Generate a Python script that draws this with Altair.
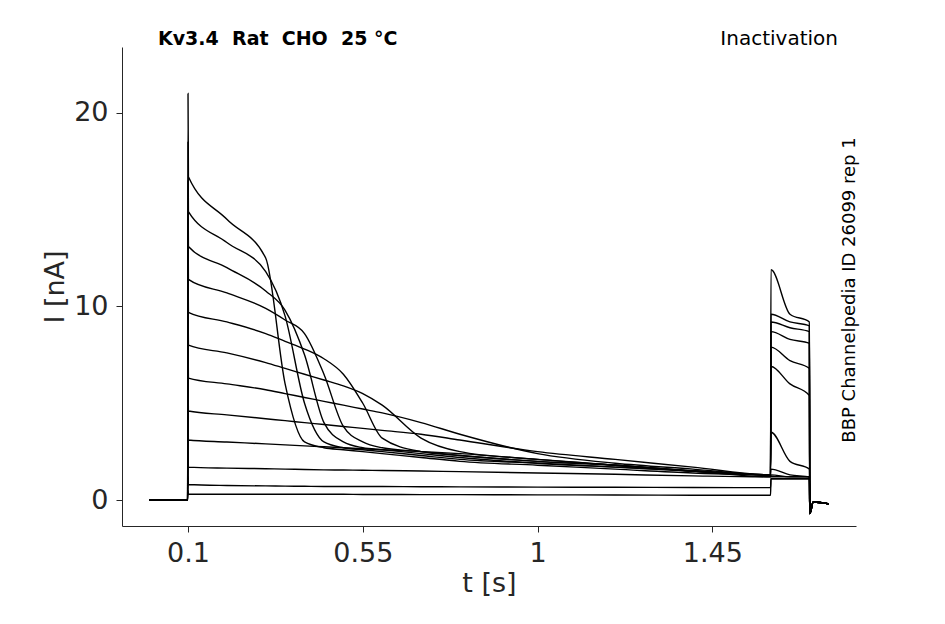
import pandas as pd
import altair as alt

# prepulse levels right after the step (nA) and peak spike at t=0.1 s
levels = [16.7, 14.9, 13.1, 11.4, 9.7, 8.0, 6.3, 4.6, 3.1, 1.7, 0.8, 0.3]
peaks = [21.0, 18.5, 16.5, 14.5, 12.5, 10.5, 8.5, 6.5, 4.5, 2.5, 1.2, 0.5]

decay_t = [0.2, 0.3, 0.35, 0.4, 0.45, 0.5, 0.55, 0.6, 0.7, 0.8, 1.0, 1.2, 1.4, 1.6]
decay = [
    [14.5, 12.5, 6.0, 3.0, 2.7, 2.6, 2.5, 2.4, 2.2, 2.0, 1.8, 1.6, 1.4, 1.3],
    [13.3, 11.8, 9.5, 5.0, 3.0, 2.7, 2.6, 2.5, 2.3, 2.1, 1.9, 1.7, 1.5, 1.3],
    [12.0, 10.8, 9.8, 7.5, 4.0, 3.0, 2.7, 2.6, 2.4, 2.2, 1.9, 1.7, 1.5, 1.3],
    [10.7, 9.9, 9.3, 8.6, 6.5, 3.8, 3.0, 2.7, 2.5, 2.3, 2.0, 1.8, 1.5, 1.3],
    [9.2, 8.6, 8.2, 7.8, 7.3, 6.5, 5.0, 3.2, 2.5, 2.3, 2.0, 1.8, 1.5, 1.3],
    [7.6, 7.1, 6.8, 6.5, 6.2, 5.9, 5.5, 4.9, 3.2, 2.5, 2.1, 1.8, 1.5, 1.3],
    [6.0, 5.7, 5.5, 5.3, 5.1, 4.9, 4.7, 4.5, 4.0, 3.4, 2.4, 1.9, 1.6, 1.3],
    [4.4, 4.2, 4.1, 4.0, 3.9, 3.8, 3.7, 3.6, 3.4, 3.1, 2.5, 2.1, 1.7, 1.3],
    [3.0, 2.9, 2.85, 2.8, 2.75, 2.7, 2.65, 2.6, 2.5, 2.4, 2.1, 1.8, 1.5, 1.2],
    [1.65, 1.62, 1.6, 1.58, 1.56, 1.55, 1.54, 1.53, 1.5, 1.47, 1.4, 1.33, 1.25, 1.2],
    [0.75, 0.73, 0.72, 0.71, 0.7, 0.7, 0.7, 0.7, 0.69, 0.68, 0.67, 0.66, 0.65, 0.64],
    [0.3, 0.3, 0.3, 0.3, 0.3, 0.3, 0.29, 0.29, 0.28, 0.28, 0.27, 0.26, 0.25, 0.25],
]

test_t = [1.601, 1.65, 1.7]
test = [
    [11.9, 9.6, 9.2], [9.6, 9.2, 9.0], [9.2, 8.9, 8.7], [8.7, 8.3, 8.1],
    [7.9, 7.2, 6.8], [6.9, 6.0, 5.4], [3.5, 2.0, 1.6], [1.6, 1.3, 1.2],
    [1.3, 1.2, 1.2], [1.2, 1.2, 1.2], [1.1, 1.1, 1.1], [1.1, 1.1, 1.1],
]
tail_t = [1.701, 1.71, 1.75]
tail = [-0.7, -0.1, -0.2]

rows = []
for k in range(len(levels)):
    pts = [(0.0, 0.0), (0.099, 0.0), (0.1, peaks[k]), (0.101, levels[k])]
    pts += list(zip(decay_t, decay[k]))
    pts += list(zip(test_t, test[k]))
    pts += list(zip(tail_t, tail))
    for i, (t, v) in enumerate(pts):
        rows.append({"trace": k, "i": i, "t": t, "I": v})
df = pd.DataFrame(rows)

lines = alt.Chart(df).mark_line(color="black", strokeWidth=1.4, interpolate="monotone").encode(
    x=alt.X("t:Q", title="t [s]",
            scale=alt.Scale(domain=[-0.07, 1.82], nice=False, zero=False),
            axis=alt.Axis(values=[0.1, 0.55, 1, 1.45], format=".3~g", grid=False)),
    y=alt.Y("I:Q", title="I [nA]",
            scale=alt.Scale(domain=[-1.34, 23.4], nice=False),
            axis=alt.Axis(values=[0, 10, 20], grid=False)),
    detail="trace:N",
    order="i:Q",
)

label = alt.Chart(pd.DataFrame({"a": [0]})).mark_text(
    text="Kv3.4\u00a0\u00a0Rat\u00a0\u00a0CHO\u00a0\u00a025\u00a0°C", fontWeight="bold", fontSize=19,
    align="left", font="DejaVu Sans").encode(x=alt.value(36), y=alt.value(-8))
proto = alt.Chart(pd.DataFrame({"a": [0]})).mark_text(
    text="Inactivation", fontSize=20, align="right",
    font="DejaVu Sans").encode(x=alt.value(716), y=alt.value(-8))
ident = alt.Chart(pd.DataFrame({"a": [0]})).mark_text(
    text="BBP Channelpedia ID 26099 rep 1", fontSize=18, angle=270,
    font="DejaVu Sans").encode(x=alt.value(728), y=alt.value(243))

chart = alt.layer(lines, label, proto, ident).properties(
    width=734, height=479, autosize="none",
    padding={"left": 114, "top": 39, "right": 80, "bottom": 90},
).configure_view(stroke=None).configure_axis(
    labelFontSize=27, titleFontSize=27, labelFont="DejaVu Sans", titleFont="DejaVu Sans",
    labelColor="#262626", titleColor="#262626", titleFontWeight="normal",
    domainColor="#262626", tickColor="#262626", tickSize=6, labelPadding=8,
)

chart.save("out.html", embed_options={"renderer": "svg", "actions": False})
